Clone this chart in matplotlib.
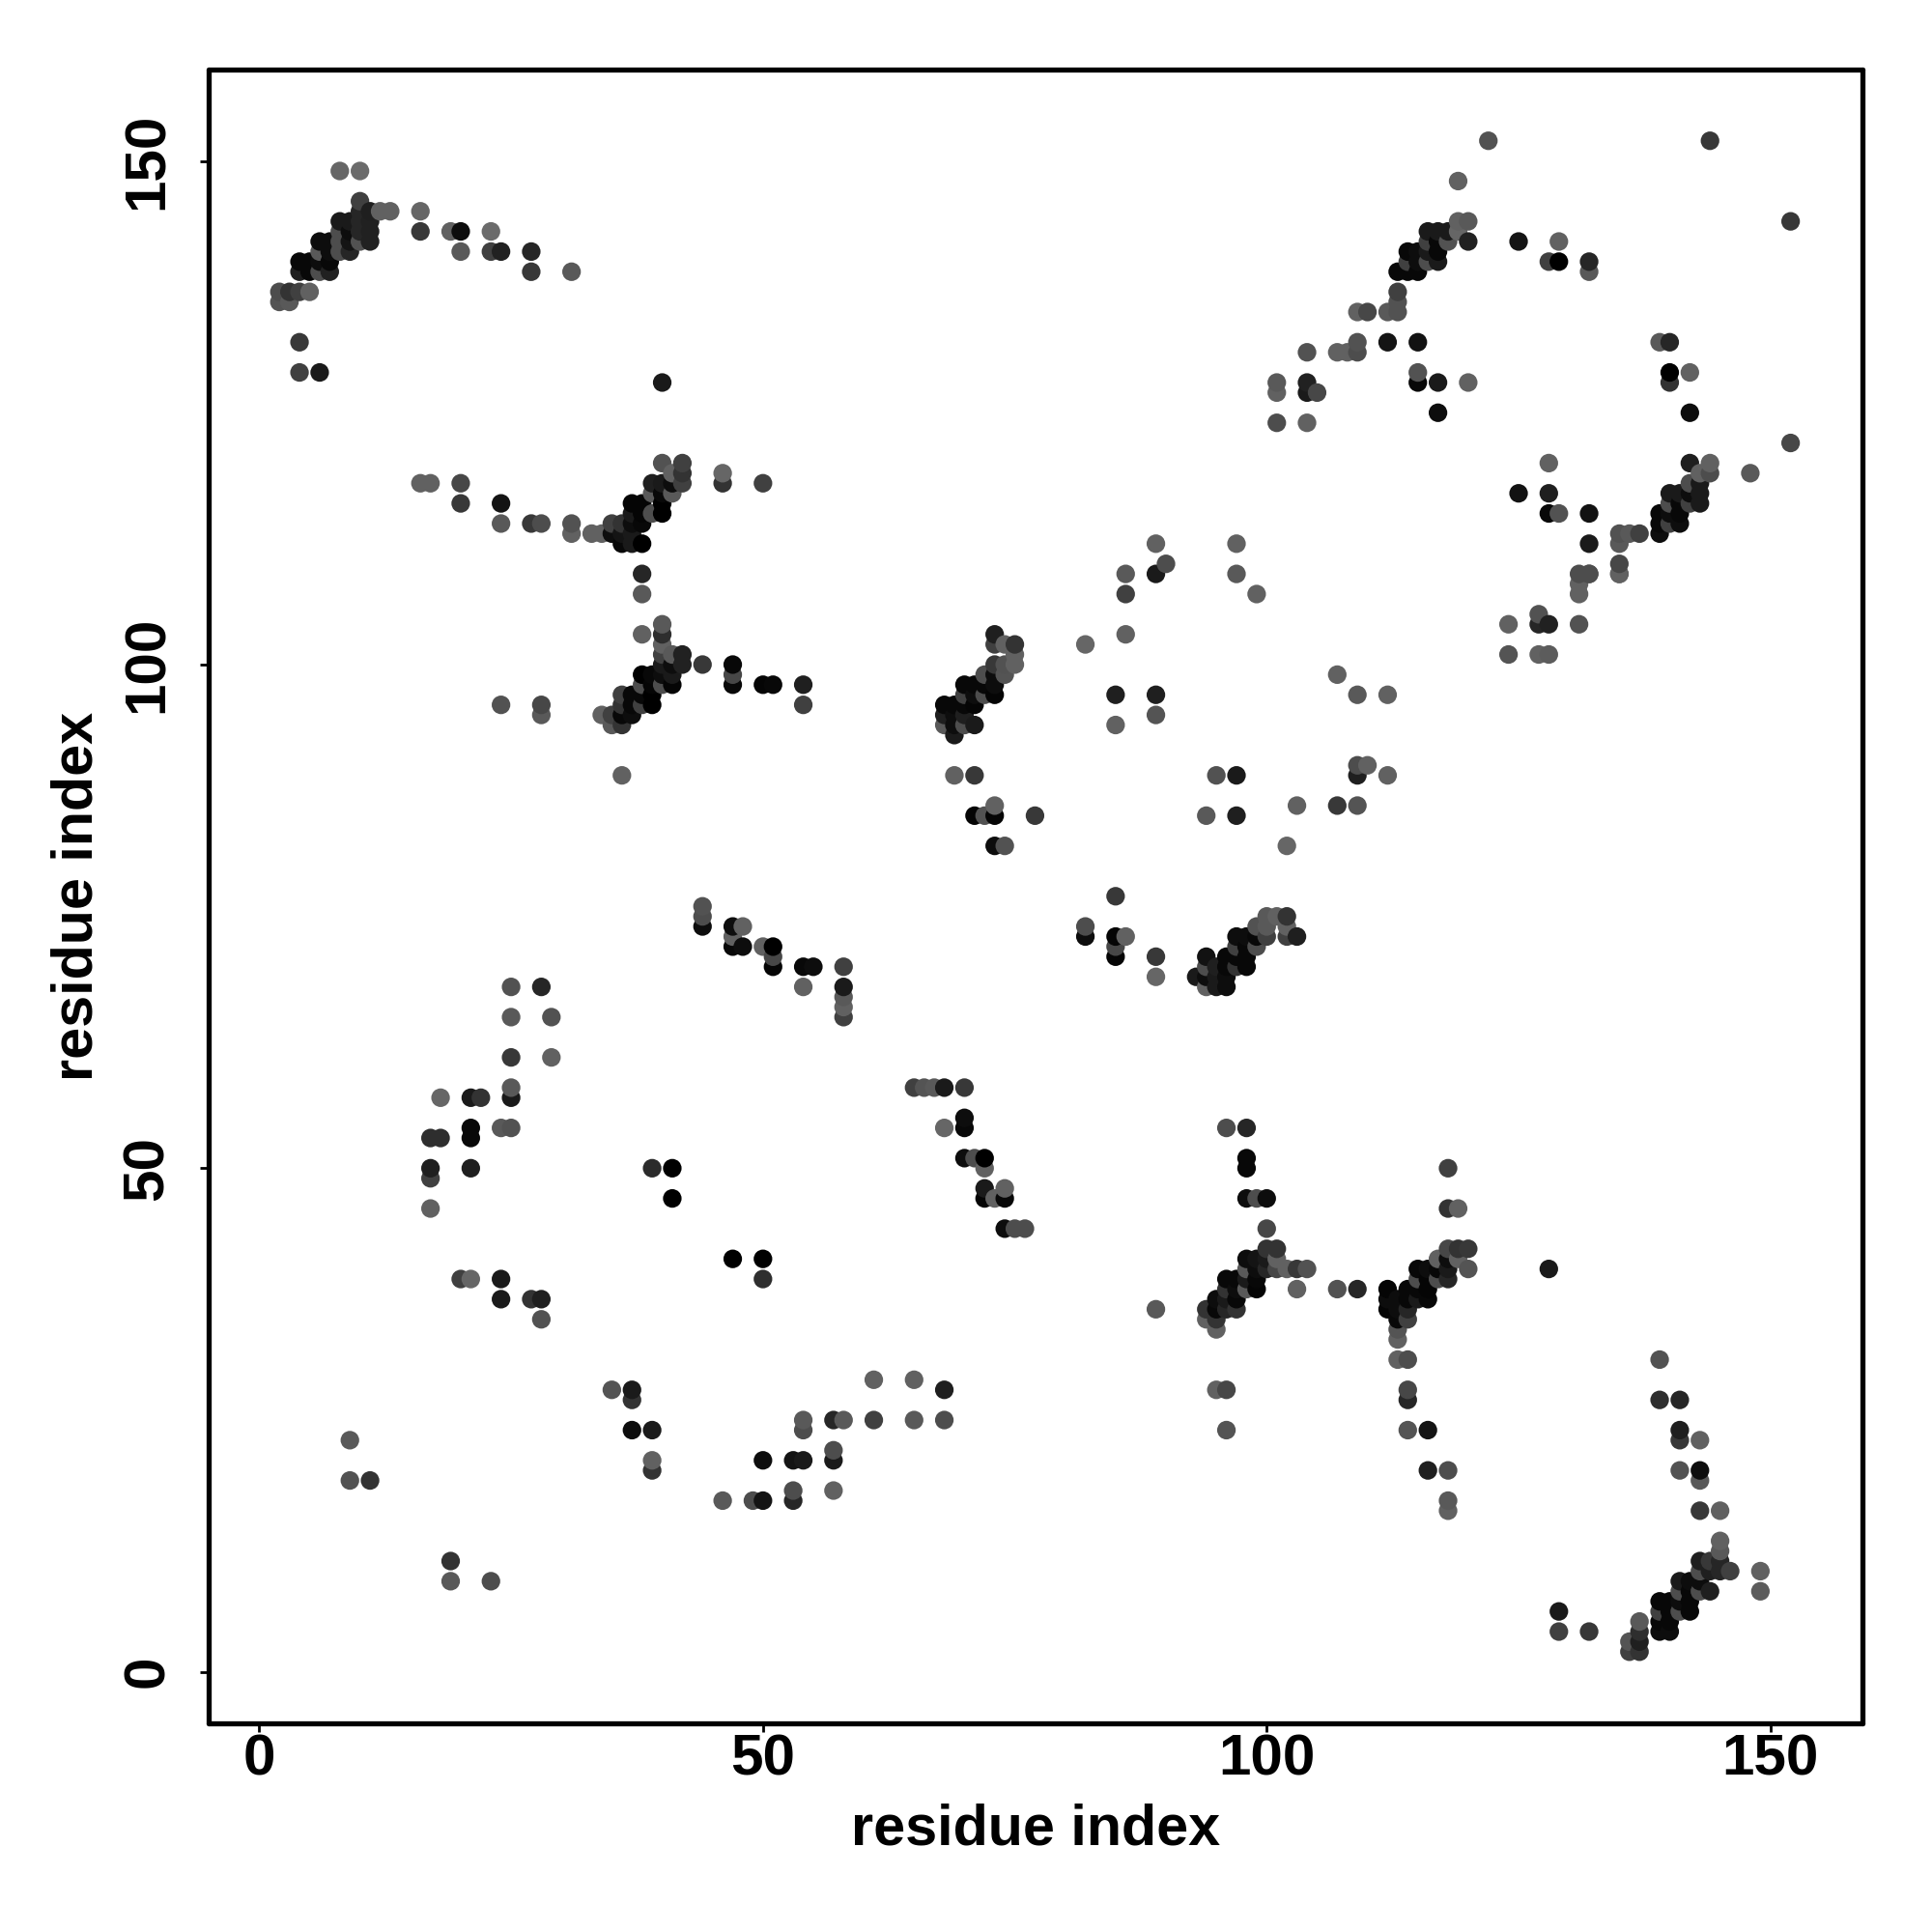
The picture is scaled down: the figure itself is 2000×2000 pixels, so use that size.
import numpy as np
import matplotlib
matplotlib.use("Agg")
import matplotlib.pyplot as plt

plt.rcParams['font.family'] = ['Liberation Sans', 'DejaVu Sans']

# each region: residue i, residue j, grey level of the dot
top_left_x = [8,10,10,10,10,10,10,11,11,11,11,12,13,16,16,19,20,23,20,23,24,27,27,31,8,9,8,9,6,7,8,9,6,7,8,9,4,5,6,7,4,5,6,7,2,3,4,5,2,3,4,4,6,40]
top_left_y = [149,149,146,145,144,143,142,145,144,143,142,145,145,145,143,143,143,143,141,141,141,141,139,139,144,144,143,143,142,142,142,142,141,141,141,141,140,140,140,140,139,139,139,139,137,137,137,137,136,136,132,129,129,128]
top_left_g = [.40,.42,.25,.15,.15,.15,.32,.12,.13,.13,.13,.38,.38,.40,.22,.38,.05,.42,.35,.25,.13,.15,.22,.35,.10,.10,.30,.05,.05,.05,.30,.08,.35,.05,.30,.15,.03,.03,.05,.03,.12,.03,.30,.13,.30,.20,.25,.38,.33,.35,.22,.25,.10,.10]

mid_upper_x = [16,17,20,20,24,24,27,28,31,31,33,34,35,35,36,36,36,37,37,37,37,37,38,38,38,38,38,38,39,39,39,40,40,40,40,40,41,41,41,42,42,42,46,46,50]
mid_upper_y = [118,118,118,116,116,114,114,114,114,113,113,113,114,113,114,113,112,116,115,114,113,112,116,115,114,112,109,107,118,117,115,120,118,117,116,115,119,118,117,120,119,118,119,118,118]
mid_upper_g = [.38,.38,.28,.22,.08,.35,.22,.30,.32,.38,.38,.38,.25,.05,.20,.08,.03,.02,.10,.05,.10,.10,.02,.02,.03,.00,.15,.35,.12,.35,.30,.32,.10,.03,.00,.00,.38,.05,.35,.25,.20,.25,.40,.20,.25]

mid_lower_x = [24,28,28,34,35,35,36,36,36,36,37,37,37,38,38,38,38,39,39,39,39,40,40,40,40,40,40,40,41,41,41,41,42,42,38,44,47,47,47,50,51,54,54,36]
mid_lower_y = [96,96,95,95,95,94,97,96,95,94,97,96,95,99,98,97,96,99,98,97,96,104,103,102,101,100,99,98,101,100,99,98,101,100,103,100,100,99,98,98,98,98,96,89]
mid_lower_g = [.32,.28,.35,.38,.25,.35,.25,.20,.03,.20,.03,.03,.05,.00,.30,.03,.25,.03,.02,.00,.00,.35,.18,.38,.25,.10,.05,.30,.35,.05,.10,.02,.13,.13,.38,.22,.03,.28,.03,.02,.03,.12,.25,.38]

top_right_x = [122,144,119,152,119,120,120,119,116,117,118,116,117,118,114,115,116,117,114,115,116,117,113,114,115,113,113,113,112,109,110,109,109,108,107,104,112,115,115,115,117,120,117,125,129,128,129,132,132,139,140,140,140,142,142,101,101,104,104,105,101,104]
top_right_y = [152,152,148,144,144,144,142,143,143,143,143,142,142,142,141,141,141,141,140,140,140,140,139,139,139,137,136,135,135,135,135,132,131,131,131,131,132,132,129,128,128,128,125,142,142,140,140,140,139,132,132,129,128,129,125,128,127,128,127,127,124,124]
top_right_g = [.32,.22,.38,.22,.38,.35,.13,.40,.10,.10,.10,.25,.03,.32,.03,.05,.10,.03,.25,.05,.30,.10,.03,.03,.03,.25,.32,.32,.35,.38,.28,.32,.30,.38,.38,.32,.08,.07,.32,.03,.10,.38,.05,.08,.38,.25,.00,.15,.35,.35,.15,.00,.20,.38,.05,.35,.38,.13,.10,.28,.30,.38]

right_arm_x = [152,142,144,143,144,148,142,143,143,143,140,141,142,140,141,142,139,140,141,139,140,141,139,137,136,135,135,132,135,135,131,132,131,131,125,128,128,129,132,127,127,128,124,131,124,127,128,128,132,135]
right_arm_y = [122,120,120,119,119,119,118,118,117,116,117,117,117,116,116,116,115,115,115,114,114,114,113,113,113,113,112,112,110,109,109,109,108,107,117,117,115,115,115,105,104,104,104,104,101,101,101,120,109,109]
right_arm_g = [.28,.12,.38,.38,.30,.35,.30,.10,.10,.10,.10,.10,.05,.30,.03,.25,.03,.05,.03,.03,.25,.05,.05,.25,.35,.32,.35,.10,.28,.38,.30,.30,.38,.38,.07,.12,.03,.32,.07,.32,.15,.13,.38,.32,.33,.38,.36,.38,.30,.38]

centre_x = [86,86,89,90,89,97,97,99,86,82,85,89,89,85,107,109,112,73,73,74,75,75,75,74,73,74,73,72,70,71,72,73,70,71,72,73,68,69,70,71,68,69,70,68,69,70,71,69,69,71,73,71,72,73,77,73,74,95,97,94,97,102,103,107,109,109,110,109,112]
centre_y = [109,107,109,110,112,112,109,107,103,102,97,97,95,94,99,97,97,103,102,102,102,101,100,100,100,99,99,99,98,98,98,98,97,97,97,97,96,96,96,96,95,95,95,94,94,94,94,93,89,89,86,85,85,85,85,82,82,89,89,85,85,82,86,86,86,90,90,89,89]
centre_g = [.35,.25,.10,.30,.38,.38,.35,.38,.38,.40,.12,.12,.33,.38,.38,.35,.38,.12,.25,.38,.20,.38,.38,.32,.22,.33,.05,.30,.03,.03,.03,.05,.25,.05,.30,.02,.03,.03,.03,.02,.12,.05,.12,.35,.05,.30,.10,.10,.38,.22,.38,.02,.32,.02,.22,.05,.32,.32,.10,.35,.12,.40,.38,.22,.33,.30,.38,.12,.38]

mid_band_x = [85,82,82,85,86,85,85,89,89,100,101,102,99,100,102,103,102,100,99,97,98,99,98,97,96,97,98,94,94,95,96,97,98,93,94,95,96,94,95,96]
mid_band_y = [77,74,73,73,73,72,71,71,69,75,75,75,74,74,74,73,73,73,73,73,73,72,72,72,71,71,71,71,70,70,70,70,70,69,69,69,69,68,68,68]
mid_band_g = [.22,.30,.05,.02,.38,.28,.02,.22,.40,.35,.38,.20,.32,.35,.38,.12,.25,.25,.03,.05,.05,.30,.03,.25,.03,.03,.03,.07,.30,.12,.03,.20,.03,.10,.05,.10,.05,.38,.10,.05]

low_mid_x = [96,98,98,98,98,99,100,100,100,101,101,100,98,99,98,99,100,101,102,103,104,96,97,98,99,96,97,98,99,103,107,109,95,96,97,94,95,96,97,94,95,95,95,96,96,89]
low_mid_y = [54,54,51,50,47,47,47,44,42,42,41,41,41,41,40,40,40,40,40,40,40,39,39,39,39,38,38,38,38,38,38,38,37,37,37,36,36,36,36,35,35,34,28,28,24,36]
low_mid_g = [.30,.15,.03,.03,.05,.30,.05,.28,.20,.20,.38,.10,.05,.08,.35,.05,.15,.28,.38,.22,.32,.03,.03,.10,.03,.20,.05,.35,.02,.38,.32,.15,.05,.10,.03,.20,.03,.15,.20,.38,.20,.38,.38,.28,.33,.35]

low_right_x = [118,118,119,118,119,120,117,118,119,120,118,117,118,115,116,117,115,116,112,114,115,116,114,115,116,112,113,112,113,114,113,114,113,113,113,114,114,114,114,116,128,116,118,118,118]
low_right_y = [50,46,46,42,42,42,41,41,41,40,40,39,39,40,40,40,39,39,38,38,38,38,37,37,37,37,37,36,36,36,35,35,34,33,31,31,28,27,24,24,40,20,20,17,16]
low_right_g = [.25,.20,.38,.28,.20,.22,.38,.05,.38,.33,.10,.30,.15,.03,.05,.03,.30,.02,.02,.03,.03,.02,.03,.10,.03,.05,.05,.02,.05,.15,.03,.25,.33,.38,.38,.30,.28,.15,.33,.08,.10,.12,.30,.35,.38]

corner_x = [139,139,141,141,141,143,141,143,143,143,145,145,145,143,144,145,143,144,145,146,149,149,141,142,141,142,143,144,143,139,140,141,142,139,140,141,142,139,140,139,140,137,137,137,137,136,136,129,129,132]
corner_y = [31,27,27,24,23,23,20,20,19,16,16,13,12,11,11,11,10,10,10,10,10,8,9,9,8,8,8,8,9,7,7,7,7,6,6,6,6,5,5,4,4,5,4,3,2,3,2,6,4,4]
corner_g = [.32,.18,.15,.12,.22,.38,.32,.05,.35,.22,.38,.38,.35,.12,.22,.15,.30,.12,.15,.25,.38,.36,.10,.05,.30,.03,.30,.12,.05,.03,.03,.05,.03,.25,.03,.30,.03,.03,.03,.05,.05,.35,.18,.12,.20,.33,.25,.10,.25,.22]

upper_band_x = [44,44,44,47,48,47,47,48,50,51,51,51,54,55,54,58,58,58,58,58]
upper_band_y = [76,75,74,74,74,73,72,72,72,72,71,70,70,70,68,70,68,67,66,65]
upper_band_g = [.32,.30,.05,.05,.38,.38,.03,.05,.38,.00,.28,.02,.03,.05,.38,.25,.10,.35,.38,.25]

left_x = [25,28,25,29,25,29,25,25,18,21,22,24,25,21,21,17,18,17,17,21,17,39,41,41,47,50,50,20,21,24,24,27,28,28]
left_y = [68,68,65,65,61,61,58,57,57,57,57,54,54,54,53,53,53,50,49,50,46,50,50,47,41,41,39,39,39,39,37,37,37,35]
left_g = [.32,.15,.35,.32,.22,.38,.35,.10,.40,.10,.20,.35,.32,.03,.03,.18,.18,.12,.25,.12,.38,.17,.00,.00,.00,.00,.18,.25,.40,.10,.10,.20,.12,.32]

right_x = [65,66,67,68,70,70,70,68,70,71,72,72,72,72,73,74,74,74,75,76]
right_y = [58,58,58,58,58,55,54,54,51,51,51,50,48,47,47,48,47,44,44,44]
right_g = [.25,.33,.35,.10,.22,.05,.03,.40,.05,.30,.00,.38,.10,.02,.38,.38,.03,.05,.30,.30]

bottom_x = [9,9,11,19,19,23,35,37,37,37,39,39,39,46,49,50,50,53,54,53,53,54,54,57,58,57,57,57,61,61,65,65,68,68]
bottom_y = [23,19,19,11,9,9,28,28,27,24,24,21,20,17,17,17,21,21,21,18,17,25,24,25,25,22,21,18,25,29,29,25,28,25]
bottom_g = [.35,.32,.20,.20,.35,.30,.33,.10,.20,.05,.10,.38,.20,.35,.30,.08,.05,.08,.10,.30,.15,.35,.30,.15,.35,.30,.10,.38,.25,.38,.38,.35,.12,.30]

x_ticks = [0, 50, 100, 150]
y_ticks = [0, 50, 100, 150]
x_label = "residue index"
y_label = "residue index"

regions = [
    (top_left_x, top_left_y, top_left_g),
    (mid_upper_x, mid_upper_y, mid_upper_g),
    (mid_lower_x, mid_lower_y, mid_lower_g),
    (top_right_x, top_right_y, top_right_g),
    (right_arm_x, right_arm_y, right_arm_g),
    (centre_x, centre_y, centre_g),
    (mid_band_x, mid_band_y, mid_band_g),
    (low_mid_x, low_mid_y, low_mid_g),
    (low_right_x, low_right_y, low_right_g),
    (corner_x, corner_y, corner_g),
    (upper_band_x, upper_band_y, upper_band_g),
    (left_x, left_y, left_g),
    (right_x, right_y, right_g),
    (bottom_x, bottom_y, bottom_g),
]
for a, b, c in regions:
    assert len(a) == len(b) == len(c), (len(a), len(b), len(c))

xs = np.concatenate([np.array(r[0], float) for r in regions])
ys = np.concatenate([np.array(r[1], float) for r in regions])
gs = np.concatenate([np.array(r[2], float) for r in regions])
order = np.lexsort((ys, xs))

fig = plt.figure(figsize=(10, 10), dpi=200)
ax = fig.add_axes([216.3/2000, 1-1784/2000, (1928-216.3)/2000, (1784-72)/2000])
ax.scatter(xs[order], ys[order], s=48, c=[str(g) for g in gs[order]], linewidths=0, zorder=3)

ax.set_xlim(-4.99, 159.13)
ax.set_ylim(-5.11, 159.07)
ax.set_xticks(x_ticks)
ax.set_yticks(y_ticks)
for s in ax.spines.values():
    s.set_linewidth(1.9)
    s.set_color('black')
    s.set_capstyle('round')
ax.tick_params(axis='both', length=3.2, width=1.0, labelsize=21.7)
ax.tick_params(axis='x', pad=0.5)
ax.tick_params(axis='y', pad=9.5)
for t in ax.get_xticklabels():
    t.set_fontweight('bold')
for t in ax.get_yticklabels():
    t.set_fontweight('bold')
    t.set_rotation(90)
    t.set_verticalalignment('center')
ax.set_xlabel(x_label, fontsize=21.4, fontweight='bold', labelpad=6.2)
ax.set_ylabel(y_label, fontsize=21.4, fontweight='bold', labelpad=6.5)

fig.savefig("out.png", dpi=200, facecolor='white')
